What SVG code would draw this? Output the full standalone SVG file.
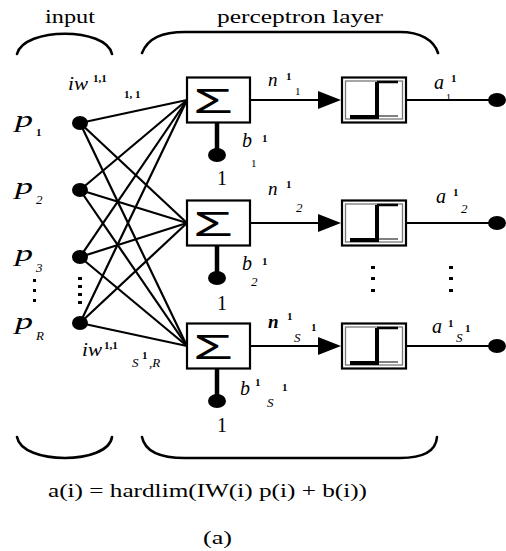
<svg xmlns="http://www.w3.org/2000/svg" width="506" height="551" viewBox="0 0 506 551">
<style>
  .t{font-family:"Liberation Serif","Times New Roman",serif;fill:#000}
  .it{font-family:"Liberation Serif","Times New Roman",serif;font-style:italic;fill:#000}
  .sm{font-family:"Liberation Serif","Times New Roman",serif;font-size:11px;font-weight:bold;fill:#000}
  .smi{font-family:"Liberation Serif","Times New Roman",serif;font-size:13px;font-style:italic;fill:#000}
  .brace{fill:none;stroke:#000;stroke-width:2.6;stroke-linecap:round}
  .w{stroke:#000;stroke-width:2.2;fill:none}
  .box{fill:#fff;stroke:#000;stroke-width:2.2}
  .inner{fill:none;stroke:#777;stroke-width:1.3}
  .stem{stroke:#000;stroke-width:4.5}
  .step{fill:none;stroke:#000;stroke-width:4}
  .thin{stroke:#000;stroke-width:1}
</style>
<rect width="506" height="551" fill="#fff"/>

<!-- braces and titles -->
<g id="braces">
  <path class="brace" d="M17,54 C24,27 106,27 112,54"/>
  <path class="brace" d="M142,53 C148,38 162,32 185,32 L400,32 C420,32 434,40 438,53"/>
  <path class="brace" d="M17,437 C22,465 108,465 112,437"/>
  <path class="brace" d="M142,437 C145,452 160,458 185,458 L400,458 C425,458 436,450 437,437"/>
  <text class="t" x="45" y="23" font-size="18" textLength="50" lengthAdjust="spacingAndGlyphs">input</text>
  <text class="t" x="217" y="23" font-size="18" textLength="166" lengthAdjust="spacingAndGlyphs">perceptron layer</text>
</g>

<!-- connectors -->
<g id="connectors">
  <g class="w">
    <line x1="80" y1="123" x2="187" y2="100"/>
    <line x1="80" y1="123" x2="187" y2="223"/>
    <line x1="80" y1="123" x2="187" y2="346"/>
    <line x1="80" y1="190" x2="187" y2="100"/>
    <line x1="80" y1="190" x2="187" y2="223"/>
    <line x1="80" y1="190" x2="187" y2="346"/>
    <line x1="80" y1="257" x2="187" y2="100"/>
    <line x1="80" y1="257" x2="187" y2="223"/>
    <line x1="80" y1="257" x2="187" y2="346"/>
    <line x1="80" y1="323" x2="187" y2="100"/>
    <line x1="80" y1="323" x2="187" y2="223"/>
    <line x1="80" y1="323" x2="187" y2="346"/>
    <line x1="250" y1="100" x2="320" y2="100"/>
    <line x1="250" y1="223" x2="320" y2="223"/>
    <line x1="250" y1="346" x2="320" y2="346"/>
    <line x1="406" y1="100" x2="492" y2="100"/>
    <line x1="406" y1="223" x2="492" y2="223"/>
    <line x1="406" y1="346" x2="492" y2="346"/>
  </g>
  <polygon points="318,91 341,100 318,109" fill="#000"/>
  <polygon points="318,214 341,223 318,232" fill="#000"/>
  <polygon points="318,337 341,346 318,355" fill="#000"/>
  <line class="stem" x1="217" y1="122" x2="217" y2="155"/>
  <line class="stem" x1="217" y1="245" x2="217" y2="278"/>
  <line class="stem" x1="217" y1="368" x2="217" y2="401"/>
</g>

<!-- input nodes -->
<g id="input-p1">
  <ellipse cx="80" cy="123" rx="8" ry="7"/>
  <text class="it" x="15" y="127" font-size="24" textLength="18" lengthAdjust="spacingAndGlyphs">p</text>
  <text class="sm" x="36" y="136" font-size="12">1</text>
</g>
<g id="input-p2">
  <ellipse cx="80" cy="190" rx="8" ry="7"/>
  <text class="it" x="15" y="194" font-size="24" textLength="18" lengthAdjust="spacingAndGlyphs">p</text>
  <text class="smi" x="36" y="204" font-size="11">2</text>
</g>
<g id="input-p3">
  <ellipse cx="80" cy="257" rx="8" ry="7"/>
  <text class="it" x="15" y="261" font-size="24" textLength="18" lengthAdjust="spacingAndGlyphs">p</text>
  <text class="smi" x="36" y="272" font-size="12">3</text>
</g>
<g id="input-pR">
  <ellipse cx="80" cy="323" rx="8" ry="7"/>
  <text class="it" x="15" y="329" font-size="24" textLength="18" lengthAdjust="spacingAndGlyphs">p</text>
  <text class="smi" x="36" y="340" font-size="10">R</text>
</g>
<g id="input-dots" fill="#000">
  <rect x="33" y="279" width="3" height="3"/>
  <rect x="33" y="289" width="3" height="3"/>
  <rect x="33" y="299" width="3" height="3"/>
  <rect x="78" y="277" width="4" height="3"/>
  <rect x="78" y="285" width="4" height="3"/>
  <rect x="78" y="293" width="4" height="3"/>
  <rect x="78" y="301" width="4" height="3"/>
</g>

<!-- weight labels -->
<g id="label-iw11">
  <text class="it" x="68" y="90" font-size="18" textLength="20" lengthAdjust="spacingAndGlyphs">iw</text>
  <text class="sm" x="93" y="82" font-size="10">1,1</text>
  <text class="sm" x="124" y="98" font-size="12">1, 1</text>
</g>
<g id="label-iwSR">
  <text class="it" x="82" y="356" font-size="18" textLength="20" lengthAdjust="spacingAndGlyphs">iw</text>
  <text class="sm" x="104" y="349" font-size="10">1,1</text>
  <text class="smi" x="132" y="367" font-size="12">S</text>
  <text class="sm" x="142" y="359" font-size="9">1</text>
  <text class="smi" x="149" y="367" font-size="11">,R</text>
</g>

<!-- summation nodes -->
<g id="sum1">
  <rect class="box" x="187" y="77.5" width="63" height="45"/>
  <text x="193" y="113" font-family="Liberation Sans, Arial, sans-serif" font-size="35" textLength="40" lengthAdjust="spacingAndGlyphs">Σ</text>
  <ellipse cx="217" cy="155" rx="9" ry="7"/>
  <text class="it" x="242" y="147" font-size="20">b</text>
  <text class="sm" x="262" y="142" font-size="10">1</text>
  <text class="t" x="251" y="167" font-size="11">1</text>
  <text class="t" x="222" y="185" font-size="20" text-anchor="middle">1</text>
</g>
<g id="sum2">
  <rect class="box" x="187" y="200.5" width="63" height="45"/>
  <text x="193" y="236" font-family="Liberation Sans, Arial, sans-serif" font-size="35" textLength="40" lengthAdjust="spacingAndGlyphs">Σ</text>
  <ellipse cx="217" cy="278" rx="9" ry="7"/>
  <text class="it" x="242" y="270" font-size="20">b</text>
  <text class="sm" x="262" y="265" font-size="10">1</text>
  <text class="smi" x="251" y="286" font-size="11">2</text>
  <text class="t" x="222" y="310" font-size="20" text-anchor="middle">1</text>
</g>
<g id="sum3">
  <rect class="box" x="187" y="323.5" width="63" height="45"/>
  <text x="193" y="359" font-family="Liberation Sans, Arial, sans-serif" font-size="35" textLength="40" lengthAdjust="spacingAndGlyphs">Σ</text>
  <ellipse cx="217" cy="401" rx="9" ry="7"/>
  <text class="it" x="240" y="395" font-size="20">b</text>
  <text class="sm" x="255" y="386" font-size="10">1</text>
  <text class="smi" x="267" y="407" font-size="12">S</text>
  <text class="sm" x="282" y="391" font-size="10">1</text>
  <text class="t" x="222" y="432" font-size="20" text-anchor="middle">1</text>
</g>

<!-- net input labels -->
<g id="label-n1">
  <text class="it" x="268" y="86" font-size="19">n</text>
  <text class="sm" x="286" y="80" font-size="10">1</text>
  <text class="t" x="295" y="95" font-size="11">1</text>
</g>
<g id="label-n2">
  <text class="it" x="268" y="195" font-size="19">n</text>
  <text class="sm" x="286" y="188" font-size="10">1</text>
  <text class="smi" x="296" y="212" font-size="11">2</text>
</g>
<g id="label-nS">
  <text class="it" x="268" y="328" font-size="19" font-weight="bold">n</text>
  <text class="sm" x="287" y="320" font-size="10">1</text>
  <text class="smi" x="294" y="342" font-size="13">S</text>
  <text class="sm" x="311" y="331" font-size="9">1</text>
</g>

<!-- hardlim nodes -->
<g id="hardlim1">
  <rect class="box" x="342" y="77.5" width="64" height="45"/>
  <rect class="inner" x="345.5" y="81" width="57" height="38"/>
  <line class="thin" x1="377" y1="116" x2="398" y2="116"/>
  <polyline class="step" points="350,117 377,117 377,82"/>
  <line x1="377" y1="82" x2="398" y2="82" stroke="#000" stroke-width="2.5"/>
</g>
<g id="hardlim2">
  <rect class="box" x="342" y="200.5" width="64" height="45"/>
  <rect class="inner" x="345.5" y="204" width="57" height="38"/>
  <line class="thin" x1="377" y1="239" x2="398" y2="239"/>
  <polyline class="step" points="350,240 377,240 377,205"/>
  <line x1="377" y1="205" x2="398" y2="205" stroke="#000" stroke-width="2.5"/>
</g>
<g id="hardlim3">
  <rect class="box" x="342" y="323.5" width="64" height="45"/>
  <rect class="inner" x="345.5" y="327" width="57" height="38"/>
  <line class="thin" x1="377" y1="362" x2="398" y2="362"/>
  <polyline class="step" points="350,363 377,363 377,328"/>
  <line x1="377" y1="328" x2="398" y2="328" stroke="#000" stroke-width="2.5"/>
</g>

<!-- output nodes -->
<g id="output-a1">
  <ellipse cx="497" cy="100" rx="9" ry="7"/>
  <text class="it" x="434" y="89" font-size="20">a</text>
  <text class="sm" x="451" y="82" font-size="10">1</text>
  <text class="t" x="446" y="101" font-size="10">1</text>
</g>
<g id="output-a2">
  <ellipse cx="497" cy="223" rx="9" ry="7"/>
  <text class="it" x="436" y="203" font-size="20">a</text>
  <text class="sm" x="453" y="196" font-size="10">1</text>
  <text class="smi" x="461" y="213" font-size="11">2</text>
</g>
<g id="output-aS">
  <ellipse cx="497" cy="346" rx="9" ry="7"/>
  <text class="it" x="432" y="333" font-size="20">a</text>
  <text class="sm" x="448" y="327" font-size="10">1</text>
  <text class="smi" x="456" y="342" font-size="13">S</text>
  <text class="sm" x="465" y="332" font-size="10">1</text>
</g>
<g id="output-dots" fill="#000">
  <rect x="371" y="266" width="4" height="3"/>
  <rect x="371" y="277" width="4" height="3"/>
  <rect x="371" y="289" width="4" height="3"/>
  <rect x="449" y="266" width="4" height="3"/>
  <rect x="449" y="277" width="4" height="3"/>
  <rect x="449" y="289" width="4" height="3"/>
</g>

<!-- formula and caption -->
<g id="caption">
  <text class="t" x="48" y="497" font-size="18" textLength="319" lengthAdjust="spacingAndGlyphs">a(i) = hardlim(IW(i) p(i) + b(i))</text>
  <text class="t" x="203" y="544" font-size="19" textLength="29" lengthAdjust="spacingAndGlyphs">(a)</text>
</g>
</svg>
